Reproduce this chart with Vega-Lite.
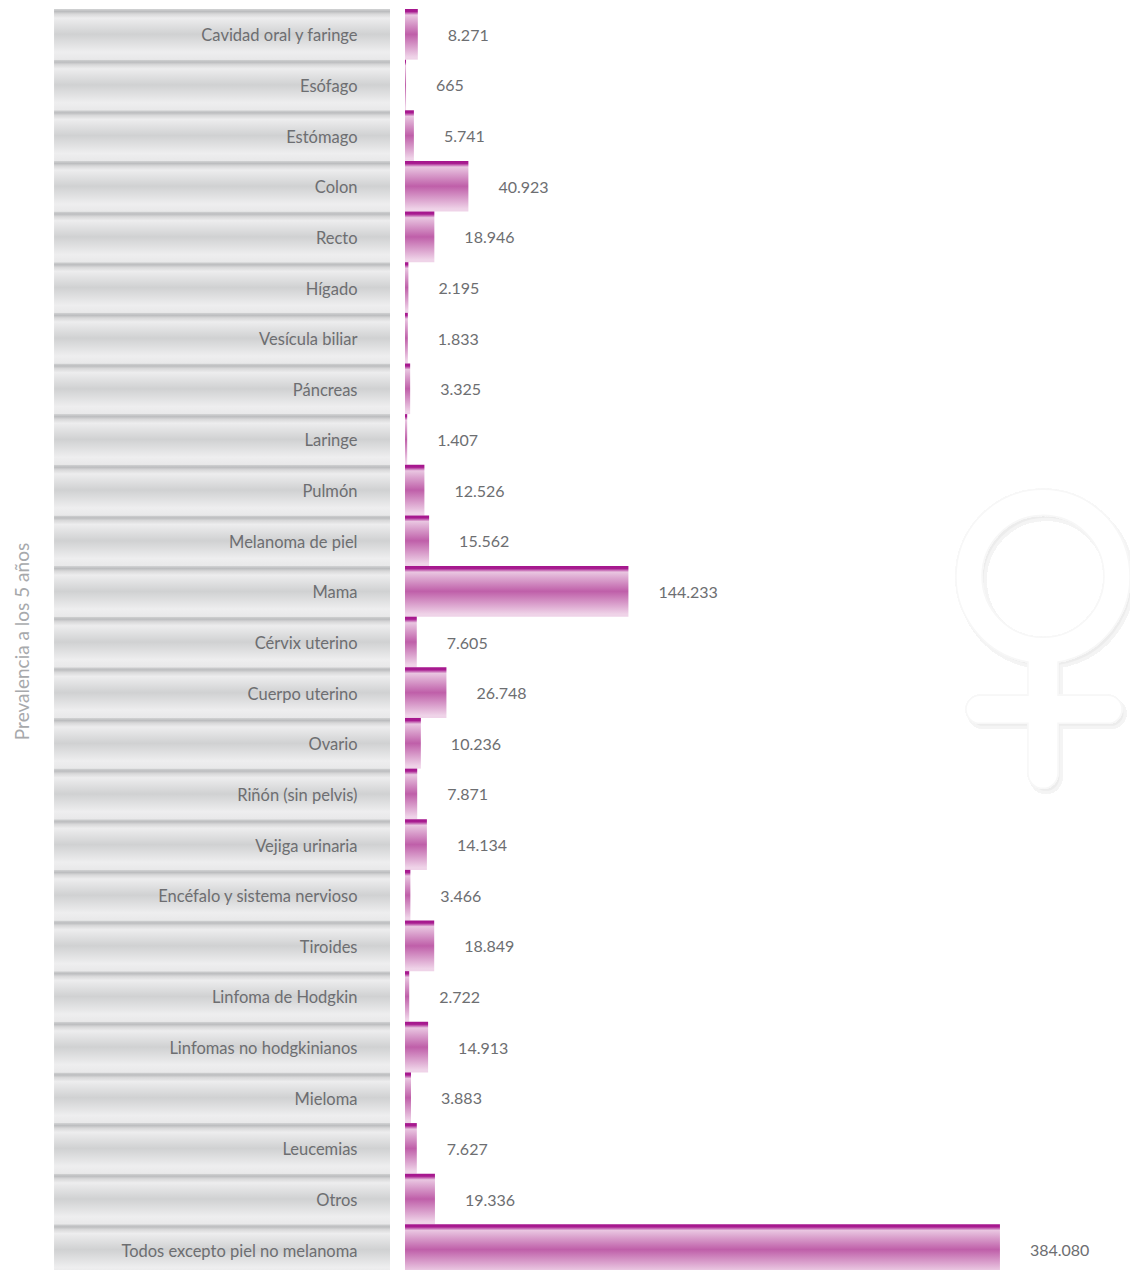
{"$schema":"https://vega.github.io/schema/vega-lite/v6.json","width":725,"height":1261,"autosize":{"type":"none"},"padding":{"left":405,"top":9,"right":0,"bottom":0},"background":"white",
"config":{"view":{"stroke":null},"locale":{"number":{"decimal":",","thousands":".","grouping":[3],"currency":["","€"]}}},
"data":{"values":[{"sitio":"Cavidad oral y faringe","casos":8271},{"sitio":"Esófago","casos":665},{"sitio":"Estómago","casos":5741},{"sitio":"Colon","casos":40923},{"sitio":"Recto","casos":18946},{"sitio":"Hígado","casos":2195},{"sitio":"Vesícula biliar","casos":1833},{"sitio":"Páncreas","casos":3325},{"sitio":"Laringe","casos":1407},{"sitio":"Pulmón","casos":12526},{"sitio":"Melanoma de piel","casos":15562},{"sitio":"Mama","casos":144233},{"sitio":"Cérvix uterino","casos":7605},{"sitio":"Cuerpo uterino","casos":26748},{"sitio":"Ovario","casos":10236},{"sitio":"Riñón (sin pelvis)","casos":7871},{"sitio":"Vejiga urinaria","casos":14134},{"sitio":"Encéfalo y sistema nervioso","casos":3466},{"sitio":"Tiroides","casos":18849},{"sitio":"Linfoma de Hodgkin","casos":2722},{"sitio":"Linfomas no hodgkinianos","casos":14913},{"sitio":"Mieloma","casos":3883},{"sitio":"Leucemias","casos":7627},{"sitio":"Otros","casos":19336},{"sitio":"Todos excepto piel no melanoma","casos":384080}]},
"encoding":{"y":{"field":"sitio","type":"nominal","sort":null,"scale":{"domain":["Cavidad oral y faringe","Esófago","Estómago","Colon","Recto","Hígado","Vesícula biliar","Páncreas","Laringe","Pulmón","Melanoma de piel","Mama","Cérvix uterino","Cuerpo uterino","Ovario","Riñón (sin pelvis)","Vejiga urinaria","Encéfalo y sistema nervioso","Tiroides","Linfoma de Hodgkin","Linfomas no hodgkinianos","Mieloma","Leucemias","Otros","Todos excepto piel no melanoma"],"range":[0,1266],"paddingInner":0,"paddingOuter":0},"axis":{"title":"Prevalencia a los 5 años","titleFont":"Lato","titleFontSize":19,"titleFontWeight":"normal","titleColor":"#a7a9ac","titleX":-383,"titleY":632,"titleAlign":"center","titleBaseline":"middle","titleAngle":-90,"domain":false,"ticks":false,"grid":false,"labelPadding":48,"labelOffset":2,"labelFont":"Lato","labelFontSize":16.5,"labelColor":"#6d6e71","labelAlign":"right","labelBaseline":"middle","labelOverlap":false,"labelLimit":0,"zindex":1}}},
"layer":[
{"mark":{"type":"point","shape":"M-15 70.7 A87 87 0 1 1 15 70.7 L15 104 L65 104 A14 14 0 0 1 65 132 L15 132 L15 182 A15 15 0 0 1 -15 182 L-15 132 L-63 132 A14 14 0 0 1 -63 104 L-15 104 Z M0 -76 A61 61 0 1 0 0 46 A61 61 0 1 0 0 -76 Z","size":4,"filled":true,"fill":"#ececec","stroke":"#f4f4f4","strokeWidth":3,"opacity":1,"xOffset":3,"yOffset":4},"encoding":{"x":{"datum":411880,"type":"quantitative","scale":{"domain":[0,468044],"nice":false,"zero":false},"axis":null},"y":{"datum":"Mama","type":"nominal"}}},
{"mark":{"type":"point","shape":"M-15 70.7 A87 87 0 1 1 15 70.7 L15 104 L65 104 A14 14 0 0 1 65 132 L15 132 L15 182 A15 15 0 0 1 -15 182 L-15 132 L-63 132 A14 14 0 0 1 -63 104 L-15 104 Z M0 -76 A61 61 0 1 0 0 46 A61 61 0 1 0 0 -76 Z","size":4,"filled":true,"fill":"white","stroke":"#f7f7f7","strokeWidth":1.5,"opacity":1},"encoding":{"x":{"datum":411880,"type":"quantitative"},"y":{"datum":"Mama","type":"nominal"}}},
{"mark":{"type":"bar","fill":{"gradient":"linear","x1":0,"y1":0,"x2":0,"y2":1,"stops":[{"offset":0,"color":"#d2d3d4"},{"offset":0.05,"color":"#bcbdbf"},{"offset":0.1,"color":"#d8d8d9"},{"offset":0.18,"color":"#ededee"},{"offset":0.5,"color":"#d0d1d2"},{"offset":0.85,"color":"#eeeeef"},{"offset":1,"color":"#e8e8e9"}]}},"encoding":{"x":{"datum":-226570,"type":"quantitative"},"x2":{"datum":-9680}}},
{"mark":{"type":"bar","fill":{"gradient":"linear","x1":0,"y1":0,"x2":0,"y2":1,"stops":[{"offset":0,"color":"#a5158d"},{"offset":0.05,"color":"#a81c90"},{"offset":0.12,"color":"#e9c6e1"},{"offset":0.5,"color":"#bf5fa9"},{"offset":0.95,"color":"#efd3e8"},{"offset":1,"color":"#efd3e8"}]}},"encoding":{"x":{"field":"casos","type":"quantitative"}}},
{"mark":{"type":"text","align":"left","baseline":"middle","dx":30,"dy":1.5,"font":"Lato","fontSize":16,"color":"#6d6e71"},"encoding":{"x":{"field":"casos","type":"quantitative"},"text":{"field":"casos","type":"quantitative","format":",d"}}}
]}
